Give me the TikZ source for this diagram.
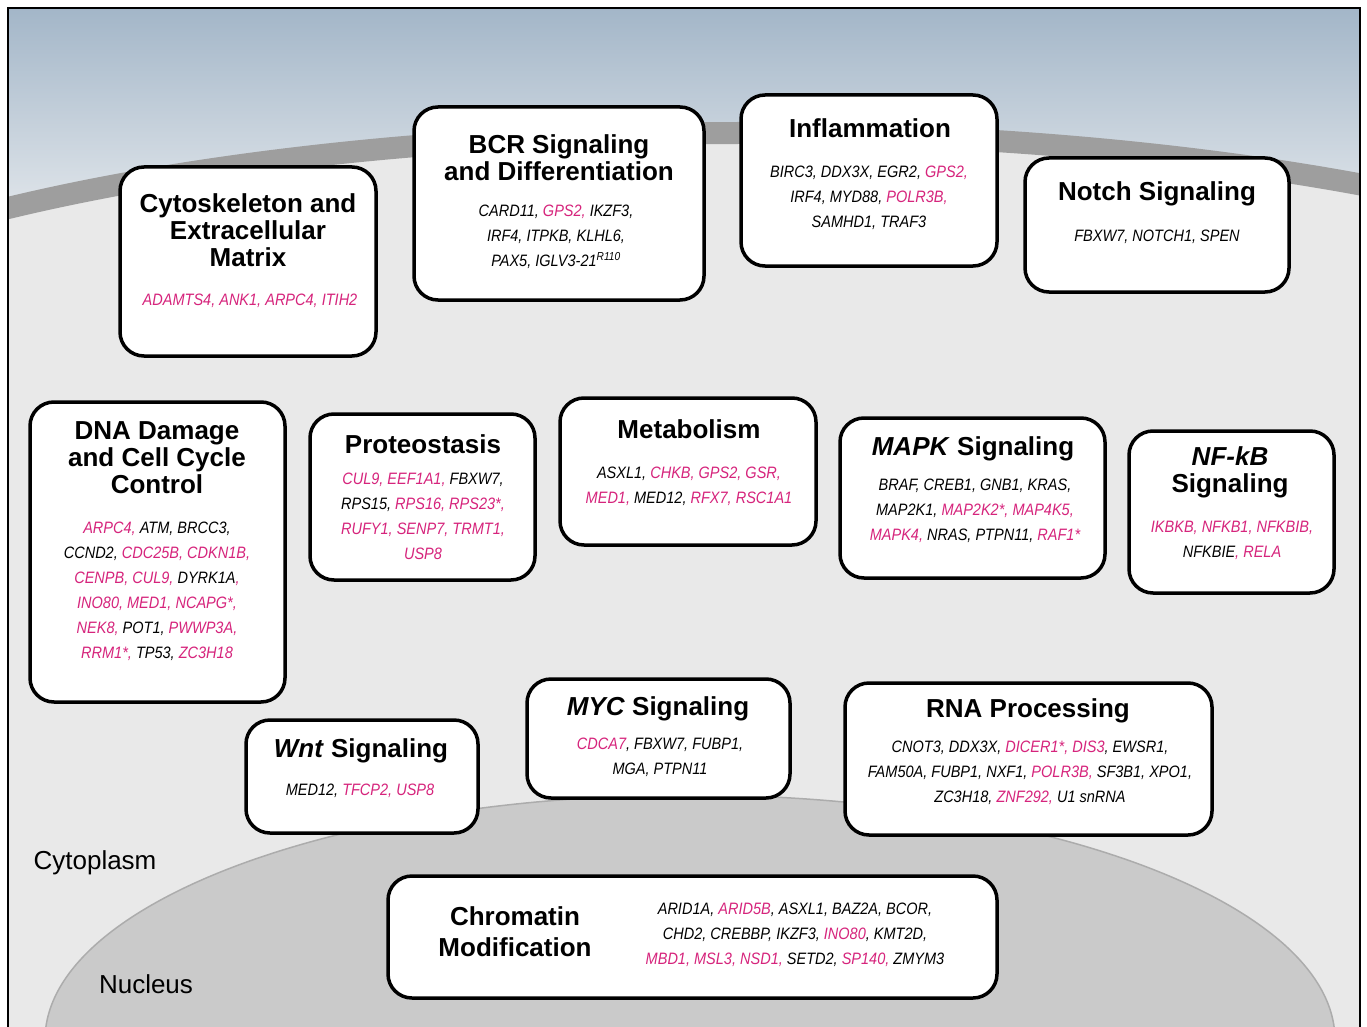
\documentclass[tikz,border=0pt]{standalone}
\usepackage{fontspec}
\setmainfont{Liberation Sans}
\newfontfamily\genefont[FakeStretch=0.88]{Liberation Sans}
\definecolor{genepink}{RGB}{214,36,124}
\definecolor{cytogray}{RGB}{233,233,233}
\definecolor{membgray}{RGB}{158,158,158}
\definecolor{nucgray}{RGB}{202,202,202}
\definecolor{nucedge}{RGB}{172,172,172}
\definecolor{skytop}{RGB}{163,182,200}
\definecolor{skylow}{RGB}{238,240,242}
\newcommand\pnk[1]{\textcolor{genepink}{#1}}
\tikzset{
panel/.style={draw,line width=3.5pt,rounded corners=24pt,fill=white},
ttl/.style={align=center,inner sep=0pt,font=\fontsize{26}{27}\selectfont\bfseries},
genes/.style={align=center,inner sep=0pt,font=\fontsize{16.5}{25}\selectfont\genefont\itshape},
region/.style={inner sep=0pt,font=\fontsize{26}{30}\selectfont}}

\begin{document}
\begin{tikzpicture}[x=1pt,y=-1pt]
\clip (0,0) rectangle (1367,1027);
% cell background, membrane and nucleus
\fill[cytogray] (8,8) rectangle (1360,1040);
\begin{scope}
\clip (8,8) rectangle (1360,422);
\shade[top color=skytop,bottom color=skylow] (8,8) rectangle (1360,260);
\filldraw[fill=cytogray,draw=membgray,line width=22pt] (740,422) ellipse [x radius=1089,y radius=289];
\end{scope}
\filldraw[fill=nucgray,draw=nucedge,line width=1.5pt] (690,1040) ellipse [x radius=645,y radius=245];
\draw[line width=2pt] (8,1040)--(8,8)--(1360,8)--(1360,1040);
\node[region] (cyto) at (95,863) {Cytoplasm};
\node[region] (nuc) at (146,984) {Nucleus};
% top row
\node[panel,minimum width=256pt,minimum height=189pt] (csk) at (248,261.5) {};
\node[ttl] (cskT) at (248,230) {Cytoskeleton and\\Extracellular\\Matrix};
\node[genes] (cskG) at (250,301) {\pnk{ADAMTS4, ANK1, ARPC4, ITIH2}};
\node[panel,minimum width=290pt,minimum height=193pt] (bcr) at (559,203.5) {};
\node[ttl] (bcrT) at (559,158) {BCR Signaling\\and Differentiation};
\node[genes] (bcrG) at (556,237) {CARD11, \pnk{GPS2,} IKZF3,\\IRF4, ITPKB, KLHL6,\\PAX5, IGLV3-21\textsuperscript{R110}};
\node[panel,minimum width=256pt,minimum height=171pt] (infl) at (869,180.5) {};
\node[ttl] (inflT) at (870,128) {Inflammation};
\node[genes] (inflG) at (869,198) {BIRC3, DDX3X, EGR2, \pnk{GPS2,}\\IRF4, MYD88, \pnk{POLR3B,}\\SAMHD1, TRAF3};
\node[panel,minimum width=264pt,minimum height=134pt] (notch) at (1157,225) {};
\node[ttl] (notchT) at (1157,194) {Notch Signaling};
\node[genes] (notchG) at (1157,237) {FBXW7, NOTCH1, SPEN};
% middle row
\node[panel,minimum width=255pt,minimum height=300pt] (dna) at (157.5,552) {};
\node[ttl] (dnaT) at (157,458) {DNA Damage\\and Cell Cycle\\Control};
\node[genes] (dnaG) at (157,591.5) {\pnk{ARPC4,} ATM, BRCC3,\\CCND2, \pnk{CDC25B, CDKN1B,}\\\pnk{CENPB, CUL9,} DYRK1A\pnk{,}\\\pnk{INO80, MED1, NCAPG*,}\\\pnk{NEK8,} POT1, \pnk{PWWP3A,}\\\pnk{RRM1*,} TP53, \pnk{ZC3H18}};
\node[panel,minimum width=225pt,minimum height=166pt] (prot) at (422.5,497) {};
\node[ttl] (protT) at (423,444) {Proteostasis};
\node[genes] (protG) at (423,516.5) {\pnk{CUL9, EEF1A1,} FBXW7,\\RPS15, \pnk{RPS16, RPS23*,}\\\pnk{RUFY1, SENP7, TRMT1,}\\\pnk{USP8}};
\node[panel,minimum width=256pt,minimum height=147pt] (meta) at (688,471.5) {};
\node[ttl] (metaT) at (689,429) {Metabolism};
\node[genes] (metaG) at (689,486.5) {ASXL1, \pnk{CHKB, GPS2, GSR,}\\\pnk{MED1,} MED12, \pnk{RFX7, RSC1A1}};
\node[panel,minimum width=265pt,minimum height=160pt] (mapk) at (972.5,498) {};
\node[ttl] (mapkT) at (973,449) {\textit{MAPK} Signaling};
\node[genes] (mapkG) at (975,511) {BRAF, CREB1, GNB1, KRAS,\\MAP2K1, \pnk{MAP2K2*, MAP4K5,}\\\pnk{MAPK4,} NRAS, PTPN11, \pnk{RAF1*}};
\node[panel,minimum width=205pt,minimum height=162pt] (nfkb) at (1231.5,512) {};
\node[ttl] (nfkbT) at (1230,472) {\textit{NF-kB}\\Signaling};
\node[genes] (nfkbG) at (1232,540.5) {\pnk{IKBKB, NFKB1, NFKBIB,}\\NFKBIE\pnk{, RELA}};
% lower row
\node[panel,minimum width=232pt,minimum height=113pt] (wnt) at (362,776.5) {};
\node[ttl] (wntT) at (361,751) {\textit{Wnt} Signaling};
\node[genes] (wntG) at (360,791) {MED12, \pnk{TFCP2, USP8}};
\node[panel,minimum width=263pt,minimum height=119pt] (myc) at (658.5,738.5) {};
\node[ttl] (mycT) at (658,709) {\textit{MYC} Signaling};
\node[genes] (mycG) at (660,757.5) {\pnk{CDCA7}, FBXW7, FUBP1,\\MGA, PTPN11};
\node[panel,minimum width=367pt,minimum height=152pt] (rna) at (1028.5,759) {};
\node[ttl] (rnaT) at (1028,711) {RNA Processing};
\node[genes] (rnaG) at (1030,773) {CNOT3, DDX3X, \pnk{DICER1*, DIS3}, EWSR1,\\FAM50A, FUBP1, NXF1, \pnk{POLR3B,} SF3B1, XPO1,\\ZC3H18, \pnk{ZNF292,} U1 snRNA};
\node[panel,minimum width=609pt,minimum height=122pt] (chrom) at (692.5,937) {};
\node[ttl,font=\fontsize{26}{31}\selectfont\bfseries] (chromT) at (515,931.5) {Chromatin\\Modification};
\node[genes] (chromG) at (795,935) {ARID1A, \pnk{ARID5B}, ASXL1, BAZ2A, BCOR,\\CHD2, CREBBP, IKZF3, \pnk{INO80}, KMT2D,\\\pnk{MBD1, MSL3, NSD1,} SETD2, \pnk{SP140,} ZMYM3};
\end{tikzpicture}
\end{document}
